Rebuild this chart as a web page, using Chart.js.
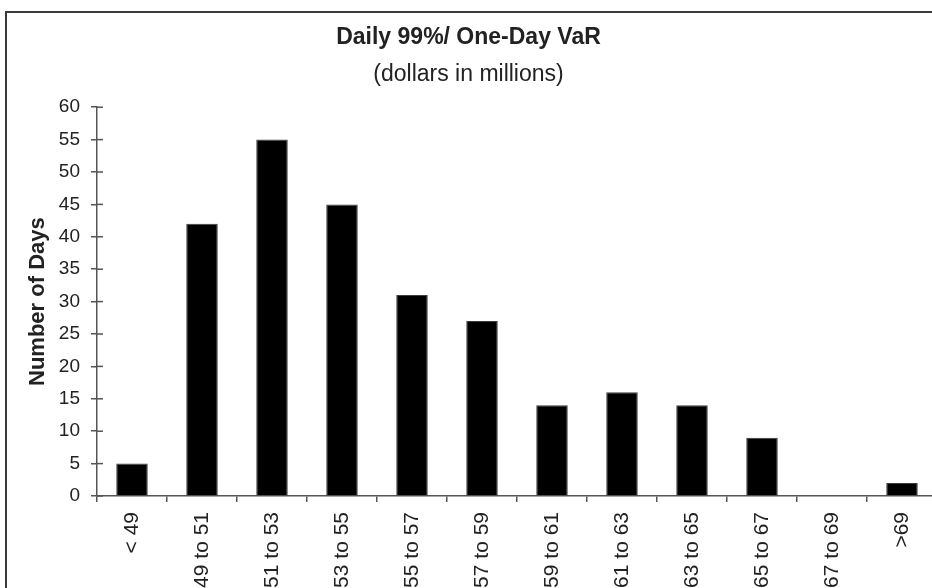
<!DOCTYPE html>
<html>
<head>
<meta charset="utf-8">
<script src="https://cdn.jsdelivr.net/npm/chart.js@4"></script>
<style>
    html, body { margin: 0; padding: 0; background: #fff; overflow: hidden; width: 932px; height: 588px; }
    /* marco del grafico: solo se ven lados izquierdo y superior, el resto queda recortado */
    .frame {
        position: absolute; left: 5px; top: 11px; width: 1000px; height: 700px;
        border-left: 2px solid #3a3a3a; border-top: 2px solid #3a3a3a;
    }
    #wrap { position: absolute; left: 0; top: 0; width: 940px; height: 620px; }
</style>
</head>
<body>
<div class="frame"></div>
<div id="wrap"><canvas id="varChart" width="940" height="620"></canvas></div>

<script>
// Datos
const categories = ['< 49', '49 to 51', '51 to 53', '53 to 55', '55 to 57', '57 to 59',
                    '59 to 61', '61 to 63', '63 to 65', '65 to 67', '67 to 69', '>69'];
const days = [5, 42, 55, 45, 31, 27, 14, 16, 14, 9, 0, 2];
const yTicks = [0, 5, 10, 15, 20, 25, 30, 35, 40, 45, 50, 55, 60];

const fontFam = '"Liberation Sans", Arial, Helvetica, sans-serif';
const axisColor = '#555';
const textColor = '#222';

// Las marcas del eje Y cruzan la linea del eje (tambien hacia dentro)
const innerTicks = {
    id: 'innerTicks',
    afterDraw(chart) {
        const y = chart.scales.y;
        const ctx = chart.ctx;
        ctx.save();
        ctx.strokeStyle = axisColor;
        ctx.lineWidth = 1.5;
        y.ticks.forEach(t => {
            const py = y.getPixelForValue(t.value);
            ctx.beginPath();
            ctx.moveTo(y.right, py);
            ctx.lineTo(y.right + 6, py);
            ctx.stroke();
        });
        ctx.restore();
    }
};

new Chart(document.getElementById('varChart'), {
    type: 'bar',
    data: {
        labels: categories,
        datasets: [{
            data: days,
            backgroundColor: '#000',
            borderColor: '#3c3c3c',
            borderWidth: 1,
            categoryPercentage: 1,
            barPercentage: 0.45
        }]
    },
    options: {
        responsive: false,
        animation: false,
        layout: { padding: { left: 0, right: 3, top: 0, bottom: 0 } },
        plugins: {
            legend: { display: false },
            tooltip: { enabled: false },
            title: {
                display: true,
                text: 'Daily 99%/ One-Day VaR',
                color: textColor,
                font: { family: fontFam, size: 23, weight: 'bold' },
                padding: { top: 24, bottom: 9 }
            },
            subtitle: {
                display: true,
                text: '(dollars in millions)',
                color: textColor,
                font: { family: fontFam, size: 23, weight: 'normal' },
                padding: { top: 0, bottom: 19 }
            }
        },
        scales: {
            x: {
                afterFit: (scale) => { scale.height = 124; },
                border: { color: axisColor, width: 1.5 },
                grid: { drawOnChartArea: false, color: axisColor, lineWidth: 1.5, tickLength: 6 },
                ticks: {
                    color: textColor,
                    font: { family: fontFam, size: 21 },
                    minRotation: 90, maxRotation: 90,
                    autoSkip: false,
                    padding: 10
                }
            },
            y: {
                min: 0, max: 60,
                afterFit: (scale) => { scale.width = 97; },
                afterBuildTicks: (scale) => { scale.ticks = yTicks.map(v => ({ value: v })); },
                border: { color: axisColor, width: 1.5 },
                grid: { drawOnChartArea: false, color: axisColor, lineWidth: 1.5, tickLength: 6 },
                ticks: {
                    color: textColor,
                    font: { family: fontFam, size: 19 },
                    padding: 11
                },
                title: {
                    display: true,
                    text: 'Number of Days',
                    color: textColor,
                    font: { family: fontFam, size: 22, weight: 'bold' },
                    padding: { top: 25, bottom: 0 }
                }
            }
        }
    },
    plugins: [innerTicks]
});
</script>
</body>
</html>
